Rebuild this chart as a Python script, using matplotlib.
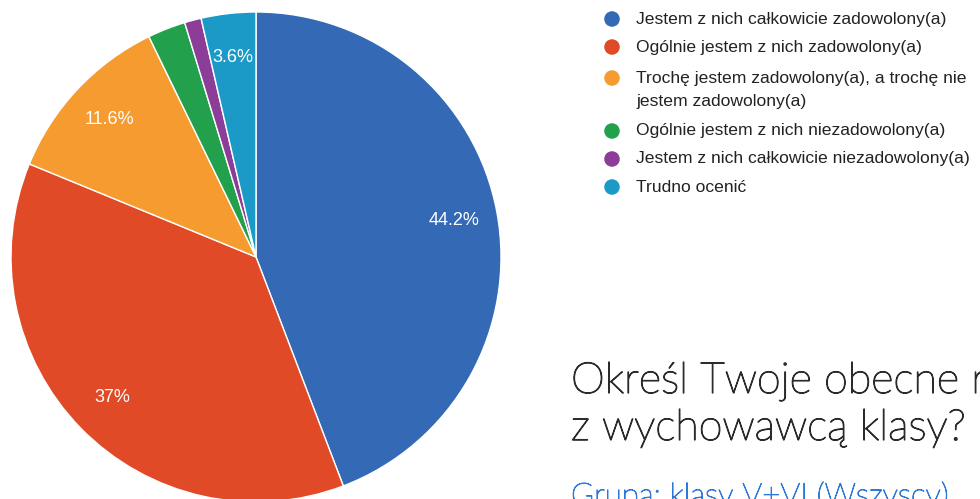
import numpy as np
import matplotlib.pyplot as plt
import matplotlib.patheffects as pe

labels = ["Jestem z nich całkowicie zadowolony(a)",
          "Ogólnie jestem z nich zadowolony(a)",
          "Trochę jestem zadowolony(a), a trochę nie\njestem zadowolony(a)",
          "Ogólnie jestem z nich niezadowolony(a)",
          "Jestem z nich całkowicie niezadowolony(a)",
          "Trudno ocenić"]
values = [44.2, 37.0, 11.6, 2.5, 1.1, 3.6]
pct_labels = ["44.2%", "37%", "11.6%", "", "", "3.6%"]
colors = ["#3369b5", "#e04a26", "#f59b2f", "#22a04b", "#8b3d98", "#1b9ac8"]

title = "Określ Twoje obecne relacje\nz wychowawcą klasy?"
subtitle = "Grupa: klasy V+VI (Wszyscy)"

W, H = 980, 499
fig = plt.figure(figsize=(W / 100, H / 100), dpi=100)

# pie: centre (256, 257) px from top-left, radius 245 px
cx, cy, r = 256, 257, 245
ax = fig.add_axes([(cx - r) / W, (H - cy - r) / H, 2 * r / W, 2 * r / H])
wedges, texts = ax.pie(values, colors=colors, startangle=90, counterclock=False,
                       wedgeprops=dict(edgecolor="white", linewidth=1))
ax.set_xlim(-1, 1)
ax.set_ylim(-1, 1)

for w, p in zip(wedges, pct_labels):
    if p:
        mid = np.deg2rad((w.theta1 + w.theta2) / 2)
        ax.text(0.82 * np.cos(mid), 0.82 * np.sin(mid), p, color="white",
                fontsize=13, ha="center", va="center", family="Liberation Sans")

# legend + titles drawn on a pixel overlay
ov = fig.add_axes([0, 0, 1, 1])
ov.set_xlim(0, W)
ov.set_ylim(H, 0)
ov.axis("off")

rows = [19, 47, 78, 131, 159, 187]
for lab, c, y in zip(labels, colors, rows):
    ov.scatter([612], [y], s=125, color=c, edgecolors="none")
    for i, line in enumerate(lab.split("\n")):
        ov.text(636, y + 23 * i, line, fontsize=12.6, color="#222222",
                va="center", family="Liberation Sans")

# Lato light comes out a bit too thin here, so thicken it slightly
thick = [pe.withStroke(linewidth=0.9, foreground="#2b2b2b")]
t1, t2 = title.split("\n")
ov.text(571, 393, t1, fontsize=31, color="#2b2b2b", family="Lato",
        fontweight="light", va="baseline", path_effects=thick)
ov.text(571, 440, t2, fontsize=31, color="#2b2b2b", family="Lato",
        fontweight="light", va="baseline", path_effects=thick)
ov.text(571, 481, subtitle, fontsize=22.5, color="#2a78dc", family="Lato",
        fontweight="light", va="top",
        path_effects=[pe.withStroke(linewidth=0.7, foreground="#2a78dc")])

fig.savefig("out.png", dpi=100)
